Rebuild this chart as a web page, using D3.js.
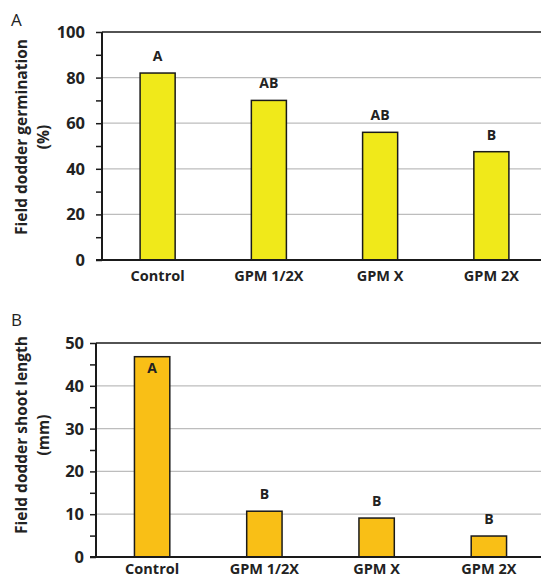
<!DOCTYPE html>
<html>
<head>
<meta charset="utf-8">
<script src="https://cdn.jsdelivr.net/npm/d3@7"></script>
<style>
	html, body { margin: 0; padding: 0; background: #fff; }
	svg { display: block; }
	text { font-family: "Open Sans", "Liberation Sans", sans-serif; fill: #222; }
</style>
</head>
<body>
<div id="chart"></div>
<script>
const categories = ["Control", "GPM 1/2X", "GPM X", "GPM 2X"]
const germination = [82, 70, 56, 47.5]
const germinationLetters = ["A", "AB", "AB", "B"]
const germinationTicks = [0, 20, 40, 60, 80, 100]
const shootLength = [46.8, 10.7, 9.1, 4.9]
const shootLetters = ["A", "B", "B", "B"]
const shootTicks = [0, 10, 20, 30, 40, 50]

const svg = d3.select("#chart").append("svg").attr("width", 541).attr("height", 579)

function drawPanel(opts) {
	const x = d3.scaleBand().domain(categories).range([opts.left, opts.right]).paddingInner(0.685).paddingOuter(0.3425)
	const y = d3.scaleLinear().domain([0, opts.max]).range([opts.bottom, opts.top])
	const g = svg.append("g")

	// grid lines
	g.append("g")
		.selectAll("line")
		.data(opts.ticks.filter(d => d > 0 && d < opts.max))
		.join("line")
		.attr("x1", opts.left)
		.attr("x2", 541)
		.attr("y1", d => y(d))
		.attr("y2", d => y(d))
		.attr("stroke", "#bdbdbd")
		.attr("stroke-width", 1.3)

	// top border
	g.append("line")
		.attr("x1", opts.left)
		.attr("x2", 541)
		.attr("y1", y(opts.max))
		.attr("y2", y(opts.max))
		.attr("stroke", "#1a1a1a")
		.attr("stroke-width", 1.6)

	// bars
	g.append("g")
		.selectAll("rect")
		.data(opts.values)
		.join("rect")
		.attr("x", (d, i) => x(categories[i]))
		.attr("y", d => y(d))
		.attr("width", x.bandwidth())
		.attr("height", d => y(0) - y(d))
		.attr("fill", opts.color)
		.attr("stroke", "#1a1a1a")
		.attr("stroke-width", 1.5)

	// significance letters
	g.append("g")
		.selectAll("text")
		.data(opts.values)
		.join("text")
		.attr("x", (d, i) => x(categories[i]) + x.bandwidth() / 2)
		.attr("y", (d, i) => (opts.inside[i] ? y(d) + 16 : y(d) - 12))
		.attr("text-anchor", "middle")
		.attr("font-size", 14)
		.attr("font-weight", 700)
		.text((d, i) => opts.letters[i])

	// y axis
	const minor = d3.range(0, opts.max + 0.001, opts.max / 10)
	const yAxis = g.append("g")
		.attr("transform", `translate(${opts.left},0)`)
		.call(d3.axisLeft(y).tickValues(minor).tickSize(6).tickFormat(""))
	yAxis.select(".domain").attr("stroke", "#1a1a1a").attr("stroke-width", 2).attr("d", `M0,${y(opts.max)}V${y(0)}`)
	yAxis.selectAll(".tick line").attr("stroke", "#1a1a1a").attr("stroke-width", 1.5)

	g.append("g")
		.selectAll("text")
		.data(opts.ticks)
		.join("text")
		.attr("x", opts.labelX)
		.attr("y", d => y(d))
		.attr("dy", "0.36em")
		.attr("text-anchor", "end")
		.attr("font-size", 16.5)
		.attr("font-weight", 700)
		.text(d => d)

	// x axis baseline
	g.append("line")
		.attr("x1", opts.left - 6)
		.attr("x2", 541)
		.attr("y1", y(0))
		.attr("y2", y(0))
		.attr("stroke", "#1a1a1a")
		.attr("stroke-width", 2)

	g.append("g")
		.selectAll("text")
		.data(categories)
		.join("text")
		.attr("x", d => x(d) + x.bandwidth() / 2)
		.attr("y", y(0) + opts.catOffset)
		.attr("text-anchor", "middle")
		.attr("font-size", 14.5)
		.attr("font-weight", 700)
		.text(d => d)

	// y title
	const title = g.append("text")
		.attr("transform", `translate(27,${opts.titleY}) rotate(-90)`)
		.attr("text-anchor", "middle")
		.attr("font-size", 15.5)
		.attr("font-weight", 700)
	title.append("tspan").attr("x", 0).attr("y", 0).text(opts.title)
	title.append("tspan").attr("x", 0).attr("y", 22).text(opts.unit)

	// panel letter
	g.append("text")
		.attr("x", 11)
		.attr("y", opts.letterY)
		.attr("font-family", "Liberation Sans, Arial, sans-serif")
		.attr("font-size", 17)
		.text(opts.panel)
}

drawPanel({
	panel: "A",
	letterY: 26,
	left: 102,
	right: 547,
	top: 32,
	bottom: 260,
	max: 100,
	values: germination,
	letters: germinationLetters,
	inside: [false, false, false, false],
	ticks: germinationTicks,
	color: "#f0e91a",
	labelX: 85,
	catOffset: 21,
	title: "Field dodder germination",
	unit: "(%)",
	titleY: 137
})

drawPanel({
	panel: "B",
	letterY: 326,
	left: 96,
	right: 545,
	top: 343,
	bottom: 557,
	max: 50,
	values: shootLength,
	letters: shootLetters,
	inside: [true, false, false, false],
	ticks: shootTicks,
	color: "#f9bf16",
	labelX: 84,
	catOffset: 17,
	title: "Field dodder shoot length",
	unit: "(mm)",
	titleY: 435
})
</script>
</body>
</html>
